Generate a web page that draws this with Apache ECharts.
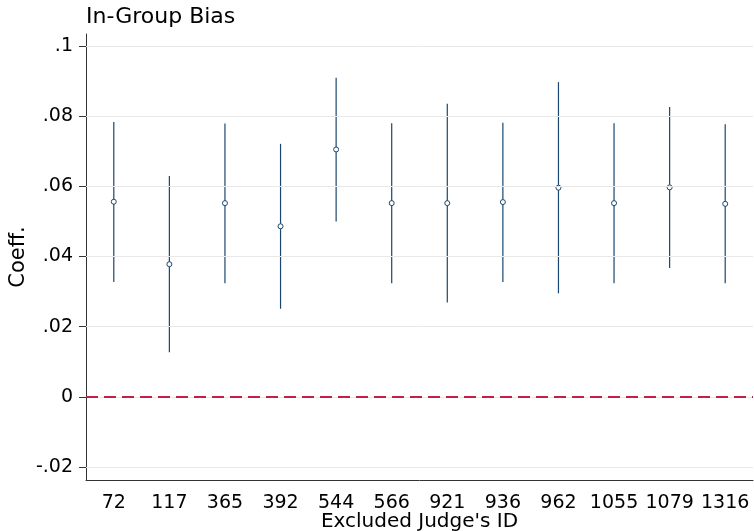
<!DOCTYPE html>
<html>
<head>
<meta charset="utf-8">
<script src="https://cdn.jsdelivr.net/npm/echarts@6/dist/echarts.min.js"></script>
<style>
  html, body { margin: 0; padding: 0; background: #fff; }
  #chart { width: 754px; height: 531px; }
</style>
</head>
<body>
<div id="chart"></div>
<script>
// Leave-one-judge-out estimates of in-group bias
const judgeIds = ['72', '117', '365', '392', '544', '566', '921', '936', '962', '1055', '1079', '1316'];
const coef     = [0.0556, 0.0378, 0.0552, 0.0486, 0.0705, 0.0552, 0.0552, 0.0555, 0.0596, 0.0552, 0.0597, 0.0550];
const ciLow    = [0.0327, 0.0127, 0.0324, 0.0251, 0.0500, 0.0324, 0.0269, 0.0327, 0.0295, 0.0324, 0.0367, 0.0324];
const ciHigh   = [0.0783, 0.0629, 0.0779, 0.0721, 0.0909, 0.0780, 0.0835, 0.0781, 0.0897, 0.0780, 0.0826, 0.0777];
const yTicks   = [-0.02, 0, 0.02, 0.04, 0.06, 0.08, 0.1];

const FONT = 'DejaVu Sans';
const NAVY = '#1a476f';

// Stata-style tick text: ".08", "-.02", "0"
function stataNum(v) {
  const r = Math.round(v * 1000) / 1000;
  if (r === 0) return '0';
  return String(r).replace(/^(-?)0\./, '$1.');
}

const chart = echarts.init(document.getElementById('chart'), null, { renderer: 'canvas' });

chart.setOption({
  animation: false,
  backgroundColor: '#fff',
  title: {
    text: 'In-Group Bias',
    left: 81,
    top: 1,
    textStyle: { fontFamily: FONT, fontSize: 22, fontWeight: 'normal', color: '#000' }
  },
  grid: { left: 86, right: 1, top: 34, bottom: 51, containLabel: false, outerBoundsMode: 'none' },
  xAxis: {
    type: 'category',
    data: judgeIds,
    boundaryGap: true,
    name: "Excluded Judge's ID",
    nameLocation: 'middle',
    nameGap: 32,
    nameMoveOverlap: false,
    nameTextStyle: { fontFamily: FONT, fontSize: 20, color: '#000' },
    axisLine: { onZero: false, lineStyle: { color: '#333', width: 1 } },
    axisTick: { alignWithLabel: true, length: 7, lineStyle: { color: '#333' } },
    axisLabel: { fontFamily: FONT, fontSize: 19, color: '#000', margin: 14, interval: 0, hideOverlap: false },
    splitLine: { show: false }
  },
  yAxis: {
    type: 'value',
    min: -0.0237,
    max: 0.1034,
    name: 'Coeff.',
    nameLocation: 'middle',
    nameGap: 57,
    nameMoveOverlap: false,
    nameRotate: 90,
    nameTextStyle: { fontFamily: FONT, fontSize: 21, color: '#000' },
    axisLine: { show: true, onZero: false, lineStyle: { color: '#333', width: 1 } },
    axisTick: { show: true, length: 7, customValues: yTicks, lineStyle: { color: '#333' } },
    axisLabel: {
      fontFamily: FONT, fontSize: 19, color: '#000', margin: 13,
      customValues: yTicks,
      formatter: stataNum
    },
    splitLine: { show: false }
  },
  series: [
    {
      // horizontal grid lines at each labelled tick
      type: 'line',
      data: [],
      silent: true,
      z: 1,
      markLine: {
        silent: true,
        symbol: 'none',
        label: { show: false },
        lineStyle: { color: '#e8e8e8', width: 1, type: 'solid' },
        data: yTicks.map(v => ({ yAxis: v }))
      }
    },
    {
      // reference line at zero
      type: 'line',
      data: [],
      silent: true,
      z: 2,
      markLine: {
        silent: true,
        symbol: 'none',
        label: { show: false },
        lineStyle: { color: '#c41f48', width: 1.8, type: [12, 6] },
        data: [{ yAxis: 0 }]
      }
    },
    {
      // confidence intervals
      type: 'custom',
      z: 3,
      data: judgeIds.map((id, i) => [i, ciLow[i], ciHigh[i]]),
      renderItem: function (params, api) {
        const lo = api.coord([api.value(0), api.value(1)]);
        const hi = api.coord([api.value(0), api.value(2)]);
        return {
          type: 'line',
          shape: { x1: lo[0], y1: lo[1], x2: hi[0], y2: hi[1] },
          style: { stroke: NAVY, lineWidth: 1.2 }
        };
      }
    },
    {
      // point estimates
      type: 'scatter',
      z: 4,
      data: coef,
      symbol: 'circle',
      symbolSize: 5,
      itemStyle: { color: '#fff', borderColor: NAVY, borderWidth: 1, opacity: 1 }
    }
  ]
});
</script>
</body>
</html>
